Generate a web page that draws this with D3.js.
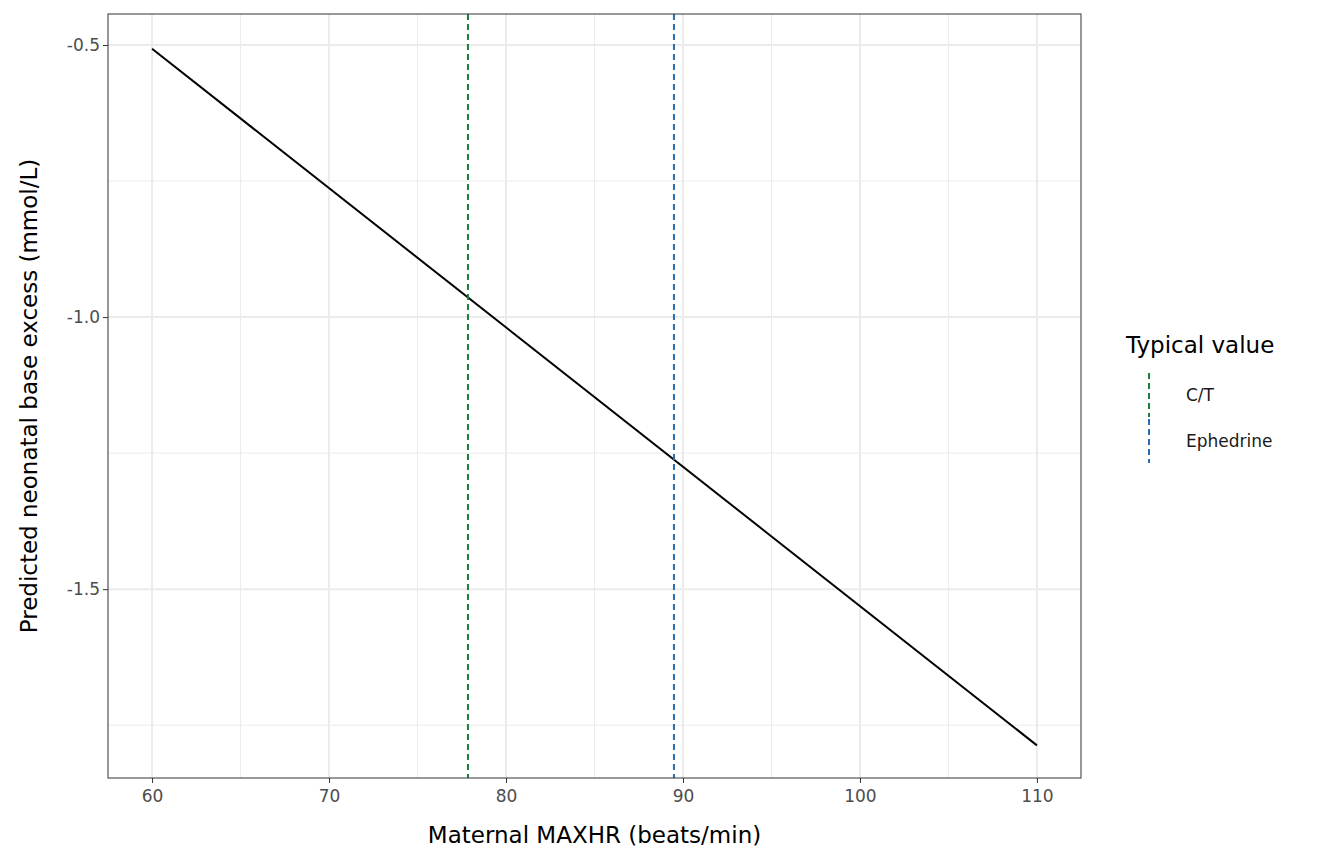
<!DOCTYPE html>
<html><head><meta charset="utf-8">
<script src="https://cdn.jsdelivr.net/npm/d3@7"></script>
<style>body{margin:0;background:#fff;font-family:"DejaVu Sans",sans-serif}</style>
</head><body><div class="canvas"></div>
<script>
// data
var lineX = [60, 110];
var lineY = [-0.507, -1.787];
var typicalNames = ['C/T', 'Ephedrine'];
var typicalValues = [77.85, 89.49];
var typicalColors = ['#1a7f3c', '#2a6bb5'];
var xTicks = [60, 70, 80, 90, 100, 110];
var yTicks = [-0.5, -1.0, -1.5];

var W = 1344, H = 864;
var m = {l:108, t:14, r:1081, b:778};

var svg = d3.select('.canvas').append('svg').attr('width', W).attr('height', H);

var x = d3.scaleLinear().domain([57.51, 112.49]).range([m.l, m.r]);
var y = d3.scaleLinear().domain([-0.443, -1.847]).range([m.t, m.b]);

//grid: minor then major
var minorX = [65, 75, 85, 95, 105], minorY = [-0.75, -1.25, -1.75];
svg.selectAll('.mx').data(minorX).enter().append('line')
    .attr('x1', x).attr('x2', x).attr('y1', m.t).attr('y2', m.b)
    .attr('stroke', '#ebebeb').attr('stroke-width', 1);
svg.selectAll('.my').data(minorY).enter().append('line')
    .attr('y1', y).attr('y2', y).attr('x1', m.l).attr('x2', m.r)
    .attr('stroke', '#ebebeb').attr('stroke-width', 1);
svg.selectAll('.gx').data(xTicks).enter().append('line')
    .attr('x1', x).attr('x2', x).attr('y1', m.t).attr('y2', m.b)
    .attr('stroke', '#ebebeb').attr('stroke-width', 2);
svg.selectAll('.gy').data(yTicks).enter().append('line')
    .attr('y1', y).attr('y2', y).attr('x1', m.l).attr('x2', m.r)
    .attr('stroke', '#ebebeb').attr('stroke-width', 2);

//the prediction line
var pts = lineX.map(function(d, i){ return [d, lineY[i]]; });
svg.append('path').datum(pts)
    .attr('d', d3.line().x(function(d){ return x(d[0]); }).y(function(d){ return y(d[1]); }))
    .attr('stroke', '#000').attr('stroke-width', 2).attr('fill', 'none');

//typical value lines
svg.selectAll('.vl').data(typicalValues).enter().append('line')
    .attr('x1', x).attr('x2', x).attr('y1', m.t).attr('y2', m.b)
    .attr('stroke', function(d, i){ return typicalColors[i]; })
    .attr('stroke-width', 2).attr('stroke-dasharray', '6,4');

//panel border
svg.append('rect').attr('x', m.l).attr('y', m.t).attr('width', m.r - m.l).attr('height', m.b - m.t)
    .attr('fill', 'none').attr('stroke', '#333').attr('stroke-width', 1);

//axes
var xAxis = svg.append('g').attr('transform', 'translate(0,' + m.b + ')')
    .call(d3.axisBottom(x).tickValues(xTicks).tickSize(5).tickFormat(d3.format('d')));
var yAxis = svg.append('g').attr('transform', 'translate(' + m.l + ',0)')
    .call(d3.axisLeft(y).tickValues(yTicks).tickSize(5).tickFormat(function(d){ return d.toFixed(1); }));
[xAxis, yAxis].forEach(function(a){
    a.attr('font-size', null).attr('font-family', null);
    a.select('.domain').remove();
    a.selectAll('line').attr('stroke', '#333');
    a.selectAll('text').attr('fill', '#4d4d4d').style('font-size', '17px').style('font-family', 'DejaVu Sans');
});
xAxis.selectAll('text').attr('dy', '0.95em');

svg.append('text').attr('x', (m.l + m.r) / 2).attr('y', 843).attr('text-anchor', 'middle')
    .style('font-size', '23px').text('Maternal MAXHR (beats/min)');
svg.append('text').attr('transform', 'translate(37,' + ((m.t + m.b) / 2) + ') rotate(-90)')
    .attr('text-anchor', 'middle').style('font-size', '23px').text('Predicted neonatal base excess (mmol/L)');

//legend
var lg = svg.append('g');
lg.append('text').attr('x', 1126).attr('y', 353).style('font-size', '23px').text('Typical value');
typicalNames.forEach(function(n, i){
    var cy = 395 + i * 46;
    lg.append('line').attr('x1', 1149).attr('x2', 1149).attr('y1', cy - 22).attr('y2', cy + 22)
        .attr('stroke', typicalColors[i]).attr('stroke-width', 2).attr('stroke-dasharray', '6,4');
    lg.append('text').attr('x', 1186).attr('y', cy + 6).style('font-size', '17px').attr('fill', '#1a1a1a').text(n);
});
</script></body></html>
